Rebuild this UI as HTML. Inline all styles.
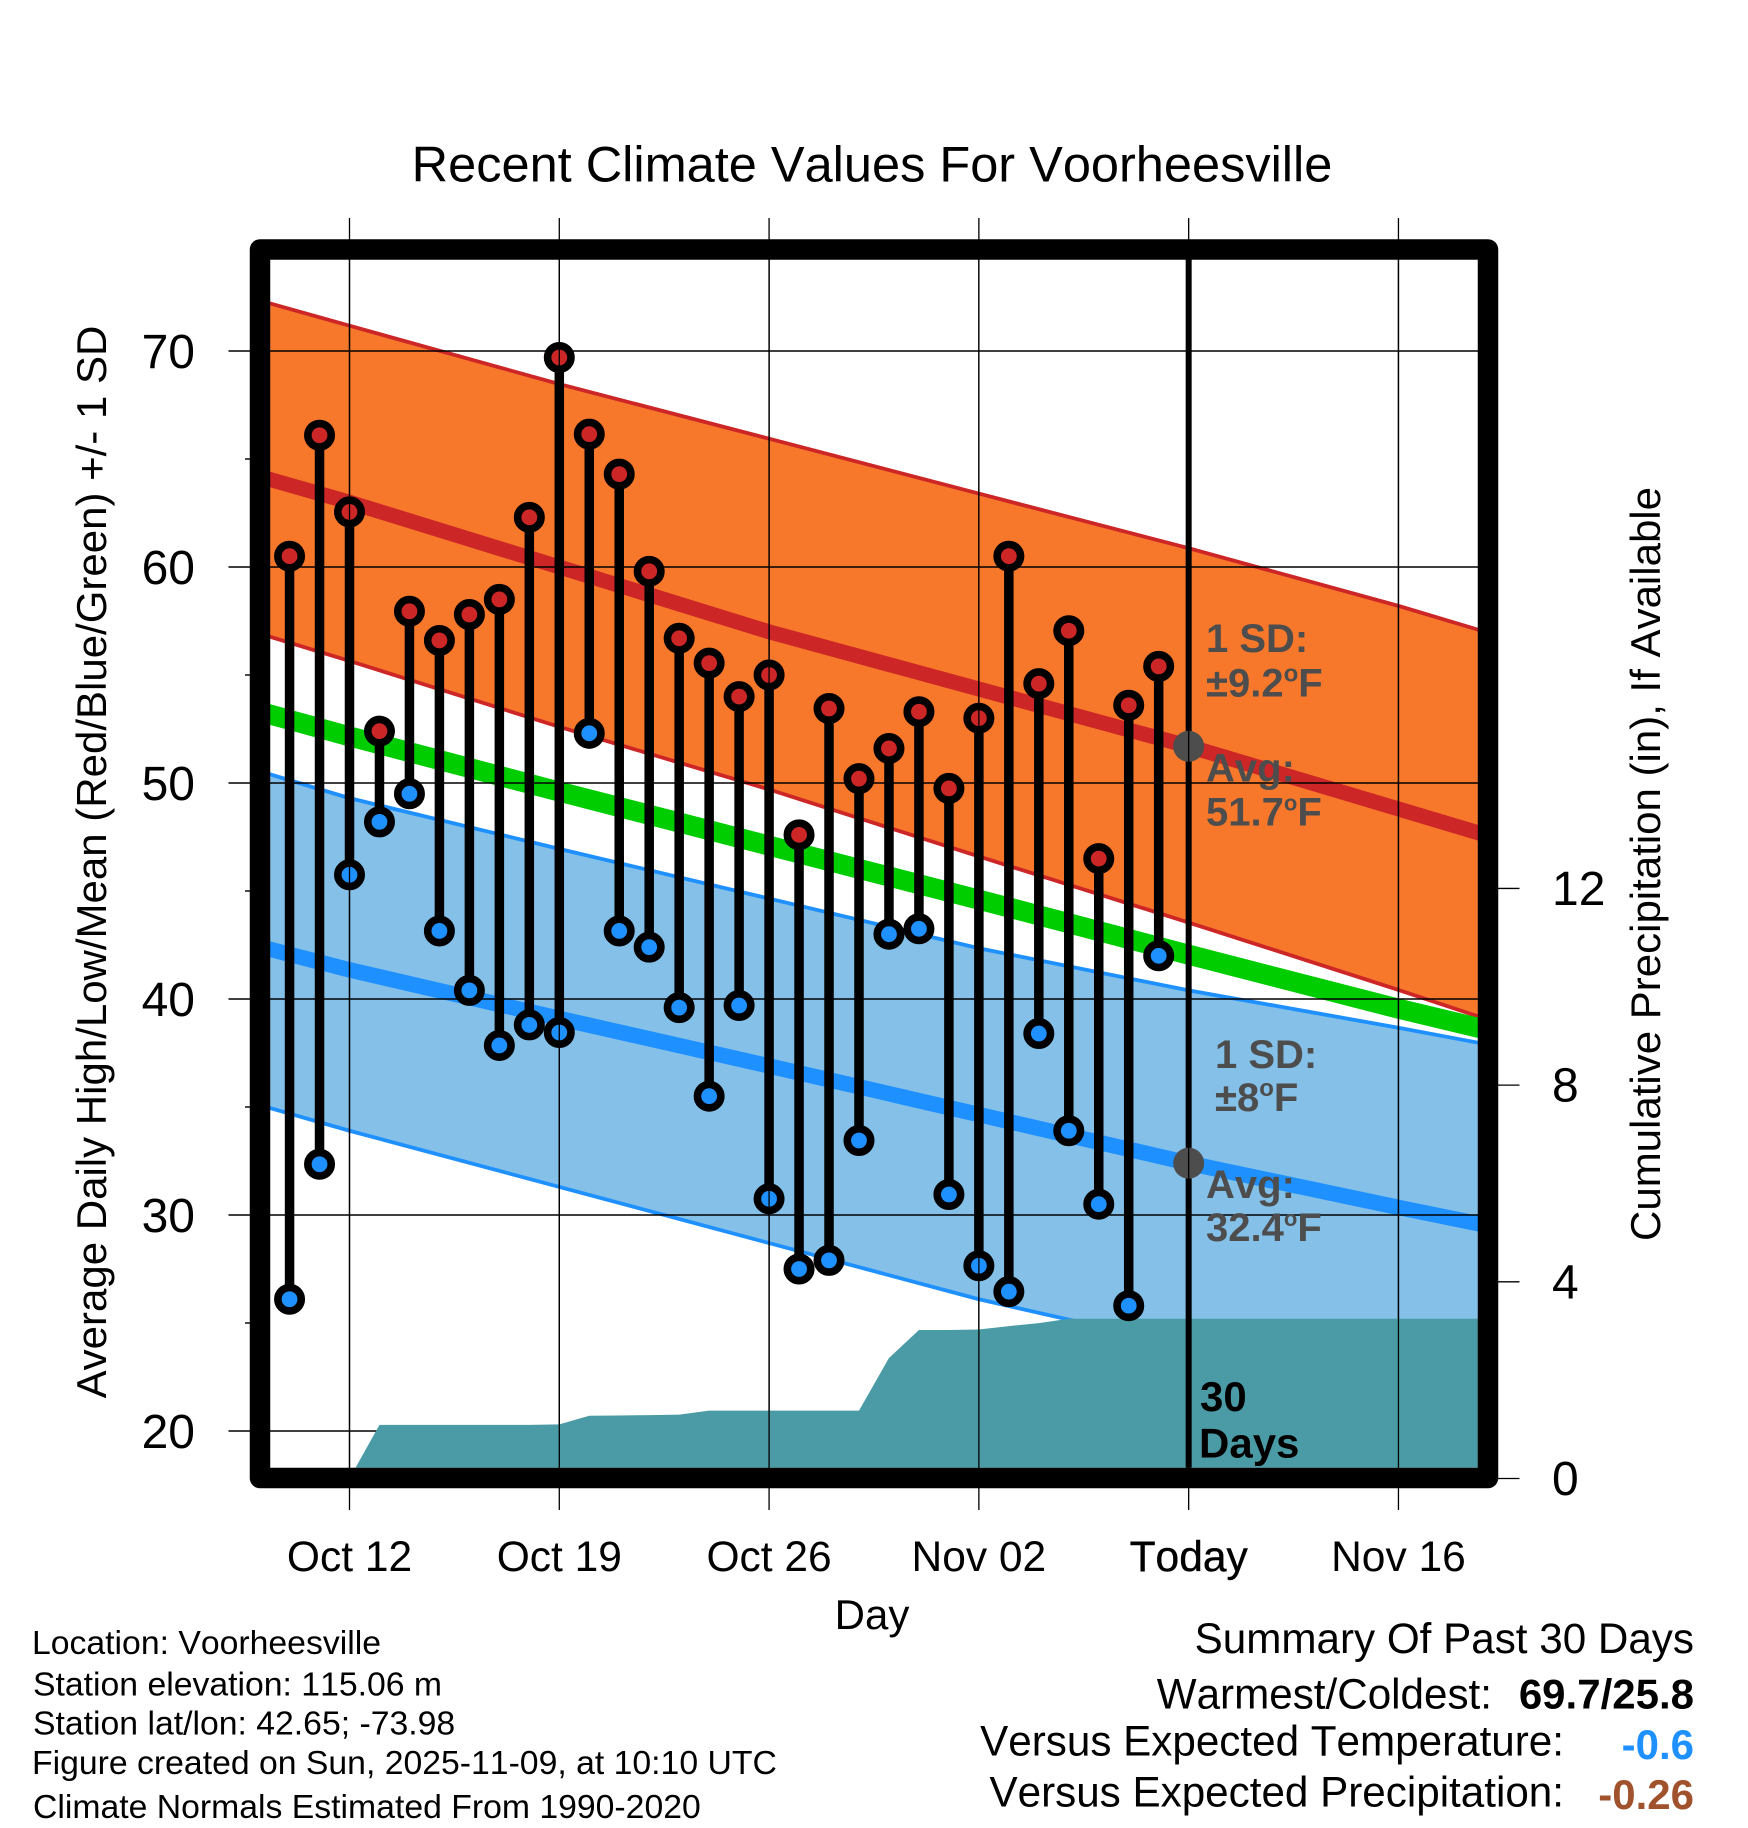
<!DOCTYPE html>
<html lang="en">
<head>
<meta charset="utf-8">
<title>Recent Climate Values For Voorheesville</title>
<style>
html,body{margin:0;padding:0;background:#fff;}
svg{display:block;}
text{font-family:"Liberation Sans",sans-serif;fill:#000;font-kerning:none;font-feature-settings:"kern" 0;}
.note{font-weight:bold;font-size:40px;fill:#4d4d4d;}
.foot{font-size:33.75px;}
.sum{font-size:42.2px;}
</style>
</head>
<body>
<svg id="chart" xmlns="http://www.w3.org/2000/svg" width="1748" height="1828" viewBox="0 0 1748 1828">
  <defs>
    <clipPath id="plot-clip"><rect x="270" y="259.5" width="1208.2" height="1208.2"/></clipPath>
  </defs>
  <rect x="0" y="0" width="1748" height="1828" fill="#fff"/>
  <text x="872" y="181.5" font-size="50.5" text-anchor="middle">Recent Climate Values For Voorheesville</text>
  <g id="plot-layer" clip-path="url(#plot-clip)"></g>
  <g id="grid-out-layer"></g>
  <rect x="260" y="249.5" width="1228" height="1228.5" fill="none" stroke="#000" stroke-width="20.5" stroke-linejoin="round"/>
  <g id="label-layer"></g>
  <text x="872" y="1629" font-size="42" text-anchor="middle">Day</text>
  <text transform="translate(106,862) rotate(-90)" font-size="42" text-anchor="middle">Average Daily High/Low/Mean (Red/Blue/Green) +/- 1 SD</text>
  <text transform="translate(1660,864) rotate(-90)" font-size="42" text-anchor="middle">Cumulative Precipitation (in), If Available</text>

  <g>
    <text class="note" x="1206" y="652">1 SD:</text>
    <text class="note" x="1206" y="696.5">±9.2<tspan font-size="24" dy="-15">o</tspan><tspan dy="15">F</tspan></text>
    <text class="note" x="1206" y="781.5">Avg:</text>
    <text class="note" x="1206" y="825.5">51.7<tspan font-size="22" dy="-15">o</tspan><tspan dy="15">F</tspan></text>
    <text class="note" x="1215" y="1068">1 SD:</text>
    <text class="note" x="1215" y="1111">±8<tspan font-size="24" dy="-15">o</tspan><tspan dy="15">F</tspan></text>
    <text class="note" x="1206" y="1198">Avg:</text>
    <text class="note" x="1206" y="1241">32.4<tspan font-size="22" dy="-15">o</tspan><tspan dy="15">F</tspan></text>
    <text x="1200" y="1411" font-size="42" font-weight="bold">30</text>
    <text x="1199" y="1457.5" font-size="42" font-weight="bold">Days</text>
  </g>

  <g>
    <text class="foot" x="32" y="1654">Location: Voorheesville</text>
    <text class="foot" x="33" y="1695.5">Station elevation: 115.06 m</text>
    <text class="foot" x="33" y="1734.5">Station lat/lon: 42.65; -73.98</text>
    <text class="foot" x="32" y="1774">Figure created on Sun, 2025-11-09, at 10:10 UTC</text>
    <text class="foot" x="33" y="1818">Climate Normals Estimated From 1990-2020</text>
  </g>

  <g>
    <text class="sum" x="1694" y="1653" text-anchor="end">Summary Of Past 30 Days</text>
    <text class="sum" x="1492" y="1708.5" text-anchor="end">Warmest/Coldest:</text>
    <text class="sum" x="1694" y="1708.5" text-anchor="end" font-weight="bold" font-size="42" style="font-size:42px">69.7/25.8</text>
    <text class="sum" x="1564" y="1755.5" text-anchor="end">Versus Expected Temperature:</text>
    <text class="sum" x="1694" y="1759" text-anchor="end" font-weight="bold" style="fill:#1e90ff;font-size:42px">-0.6</text>
    <text class="sum" x="1564" y="1806.5" text-anchor="end">Versus Expected Precipitation:</text>
    <text class="sum" x="1694" y="1809" text-anchor="end" font-weight="bold" style="fill:#a0522d;font-size:42px">-0.26</text>
  </g>
</svg>
<script>
// ---- data ----
var categories = ['Oct 10','Oct 11','Oct 12','Oct 13','Oct 14','Oct 15','Oct 16','Oct 17','Oct 18','Oct 19','Oct 20','Oct 21','Oct 22','Oct 23','Oct 24','Oct 25','Oct 26','Oct 27','Oct 28','Oct 29','Oct 30','Oct 31','Nov 01','Nov 02','Nov 03','Nov 04','Nov 05','Nov 06','Nov 07','Nov 08'];
var dailyHigh = [60.5,66.1,62.55,52.4,57.95,56.6,57.8,58.5,62.3,69.7,66.15,64.3,59.8,56.7,55.55,54.0,55.0,47.6,53.45,50.2,51.6,53.3,49.75,53.0,60.5,54.6,57.05,46.5,53.6,55.4];
var dailyLow = [26.1,32.35,45.75,48.2,49.5,43.15,40.4,37.85,38.8,38.45,52.3,43.15,42.4,39.6,35.5,39.7,30.75,27.5,27.9,33.45,43.0,43.25,30.95,27.65,26.45,38.4,33.9,30.5,25.8,42.0];
var cumulativePrecip = [0,0,0,1.09,1.09,1.09,1.09,1.09,1.09,1.10,1.275,1.28,1.29,1.30,1.38,1.38,1.38,1.38,1.38,1.38,2.45,3.02,3.02,3.03,3.10,3.16,3.25,3.25,3.25,3.25];
var precipFutureDays = 10;

// days since Oct 12 at which climate normals were read
var normalDays = [-2.65,0,7,14,21,28,35,37.65];
var normalHighPlusSd = [72.2,71.17,68.47,65.94,63.4,60.87,58.2,57.1];
var normalHigh = [64.05,63.0,60.0,57.0,54.35,51.7,48.8,47.7];
var normalHighMinusSd = [56.77,55.65,52.6,49.7,46.6,43.54,40.42,39.2];
var normalMean = [53.17,52.16,49.6,47.1,44.6,42.05,39.55,38.67];
var normalLowPlusSd = [50.4,49.3,46.95,44.65,42.35,40.4,38.67,37.98];
var normalLow = [42.3,41.35,39.1,36.9,34.65,32.4,30.35,29.6];
var normalLowMinusSd = [34.95,33.9,31.3,28.7,26.1,23.9,21.7,21.0];

var todayHigh = 51.7;
var todayLow = 32.4;
var todayIndex = 30;

var xTickLabels = ['Oct 12','Oct 19','Oct 26','Nov 02','Today','Nov 16'];
var yTickLabels = ['70','60','50','40','30','20'];
var yTickValues = [70,60,50,40,30,20];
var yMinorValues = [65,55,45,35,25];
var precipTickLabels = ['0','4','8','12'];
var precipTickValues = [0,4,8,12];

// ---- scales ----
function xScale(dayFromFirstTick){ return 349.5 + dayFromFirstTick * 29.97; }
function xCat(i){ return xScale(i - 2); }
function yTemp(t){ return 351 + (70 - t) * 21.6; }
function yPrecip(p){ return 1478.5 - p * 49.17; }

var NS = 'http://www.w3.org/2000/svg';
var plot = document.getElementById('plot-layer');
var outer = document.getElementById('grid-out-layer');
var labels = document.getElementById('label-layer');

function mk(tag, attrs, parent){
  var el = document.createElementNS(NS, tag);
  for (var k in attrs) el.setAttribute(k, attrs[k]);
  parent.appendChild(el);
  return el;
}
function pts(days, vals){
  return days.map(function(d, i){ return xScale(d).toFixed(2) + ',' + yTemp(vals[i]).toFixed(2); });
}
var el;

// bands
el = mk('polygon', {points: pts(normalDays, normalHighPlusSd).concat(pts(normalDays, normalHighMinusSd).reverse()).join(' '), fill: '#f7782b'}, plot);


el = mk('polygon', {points: pts(normalDays, normalLowPlusSd).concat(pts(normalDays, normalLowMinusSd).reverse()).join(' '), fill: '#84c0e8'}, plot);



// band edges
el = mk('polyline', {points: pts(normalDays, normalHighPlusSd).join(' '), fill: 'none', stroke: '#cd2626', 'stroke-width': 3.8, 'stroke-linecap': 'square', 'stroke-linejoin': 'round'}, plot);


el = mk('polyline', {points: pts(normalDays, normalHighMinusSd).join(' '), fill: 'none', stroke: '#cd2626', 'stroke-width': 3.8, 'stroke-linecap': 'square', 'stroke-linejoin': 'round'}, plot);


el = mk('polyline', {points: pts(normalDays, normalLowPlusSd).join(' '), fill: 'none', stroke: '#1e90ff', 'stroke-width': 3.8, 'stroke-linecap': 'square', 'stroke-linejoin': 'round'}, plot);


el = mk('polyline', {points: pts(normalDays, normalLowMinusSd).join(' '), fill: 'none', stroke: '#1e90ff', 'stroke-width': 3.8, 'stroke-linecap': 'square', 'stroke-linejoin': 'round'}, plot);



// mean lines
el = mk('polyline', {points: pts(normalDays, normalMean).join(' '), fill: 'none', stroke: '#00cd00', 'stroke-width': 20, 'stroke-linecap': 'square', 'stroke-linejoin': 'round'}, plot);


el = mk('polyline', {points: pts(normalDays, normalHigh).join(' '), fill: 'none', stroke: '#cd2626', 'stroke-width': 15, 'stroke-linecap': 'square', 'stroke-linejoin': 'round'}, plot);


el = mk('polyline', {points: pts(normalDays, normalLow).join(' '), fill: 'none', stroke: '#1e90ff', 'stroke-width': 15.5, 'stroke-linecap': 'square', 'stroke-linejoin': 'round'}, plot);



// horizontal grid, major ticks, labels
yTickValues.forEach(function(v, i){
  var y = yTemp(v);
  var g = mk('line', {x1: 228.5, x2: 1478, y1: y, y2: y, stroke: '#000', 'stroke-width': 1.6}, plot);
  
  
  var t = mk('line', {x1: 228.5, x2: 252, y1: y, y2: y, stroke: '#000', 'stroke-width': 1.6}, outer);
  
  
  var l = mk('text', {x: 195, y: y + 17, 'font-size': 48, 'text-anchor': 'end'}, labels);
  
  
  l.textContent = yTickLabels[i];
});
yMinorValues.forEach(function(v){
  var y = yTemp(v);
  var t = mk('line', {x1: 245, x2: 252, y1: y, y2: y, stroke: '#000', 'stroke-width': 1.4}, outer);
  
  
});

// vertical grid, tick labels
xTickLabels.forEach(function(lab, i){
  var x = xScale(i * 7);
  var g = mk('line', {x1: x, x2: x, y1: 218, y2: 1510, stroke: '#000', 'stroke-width': 1.3}, outer);
  
  
  var g2 = mk('line', {x1: x, x2: x, y1: 250, y2: 1478, stroke: '#000', 'stroke-width': 1.3}, plot);
  
  
  var l = mk('text', {x: x, y: 1571, 'font-size': 42.5, 'text-anchor': 'middle'}, labels);
  
  
  if (lab === 'Today') { l.setAttribute('stroke', '#000'); l.setAttribute('stroke-width', '0.4'); }
  l.textContent = lab;
});

// precipitation area
var precipPts = cumulativePrecip.map(function(p, i){ return xCat(i).toFixed(2) + ',' + yPrecip(p).toFixed(2); });
var lastP = cumulativePrecip[cumulativePrecip.length - 1];
var lastX = xCat(cumulativePrecip.length - 1 + precipFutureDays + 1);
precipPts.push(lastX.toFixed(2) + ',' + yPrecip(lastP).toFixed(2));
precipPts.push(lastX.toFixed(2) + ',' + yPrecip(0).toFixed(2));
precipPts.push(xCat(0).toFixed(2) + ',' + yPrecip(0).toFixed(2));
el = mk('polygon', {points: precipPts.join(' '), fill: '#4a9ba6'}, plot);



// today line
var todayX = xCat(todayIndex);
el = mk('line', {x1: todayX, x2: todayX, y1: 250, y2: 1478, stroke: '#000', 'stroke-width': 6}, plot);



// daily sticks and markers
categories.forEach(function(c, i){
  var x = xCat(i);
  var s = mk('line', {x1: x, x2: x, y1: yTemp(dailyHigh[i]), y2: yTemp(dailyLow[i]), stroke: '#000', 'stroke-width': 9.5}, plot);
  
  
  var h = mk('circle', {cx: x, cy: yTemp(dailyHigh[i]), r: 11.7, fill: '#cd2626', stroke: '#000', 'stroke-width': 7.6}, plot);
  
  
  var l = mk('circle', {cx: x, cy: yTemp(dailyLow[i]), r: 11.7, fill: '#1e90ff', stroke: '#000', 'stroke-width': 7.6}, plot);
  
  
});

// today markers
el = mk('circle', {cx: todayX, cy: yTemp(todayHigh), r: 15.5, fill: '#4d4d4d'}, plot);


el = mk('circle', {cx: todayX, cy: yTemp(todayLow), r: 15.5, fill: '#4d4d4d'}, plot);



// right axis
precipTickValues.forEach(function(v, i){
  var y = yPrecip(v);
  var t = mk('line', {x1: 1495, x2: 1519.5, y1: y, y2: y, stroke: '#000', 'stroke-width': 1.3}, outer);
  
  
  var l = mk('text', {x: 1552, y: y + 16.5, 'font-size': 48}, labels);
  
  
  l.textContent = precipTickLabels[i];
});
</script>
</body>
</html>
